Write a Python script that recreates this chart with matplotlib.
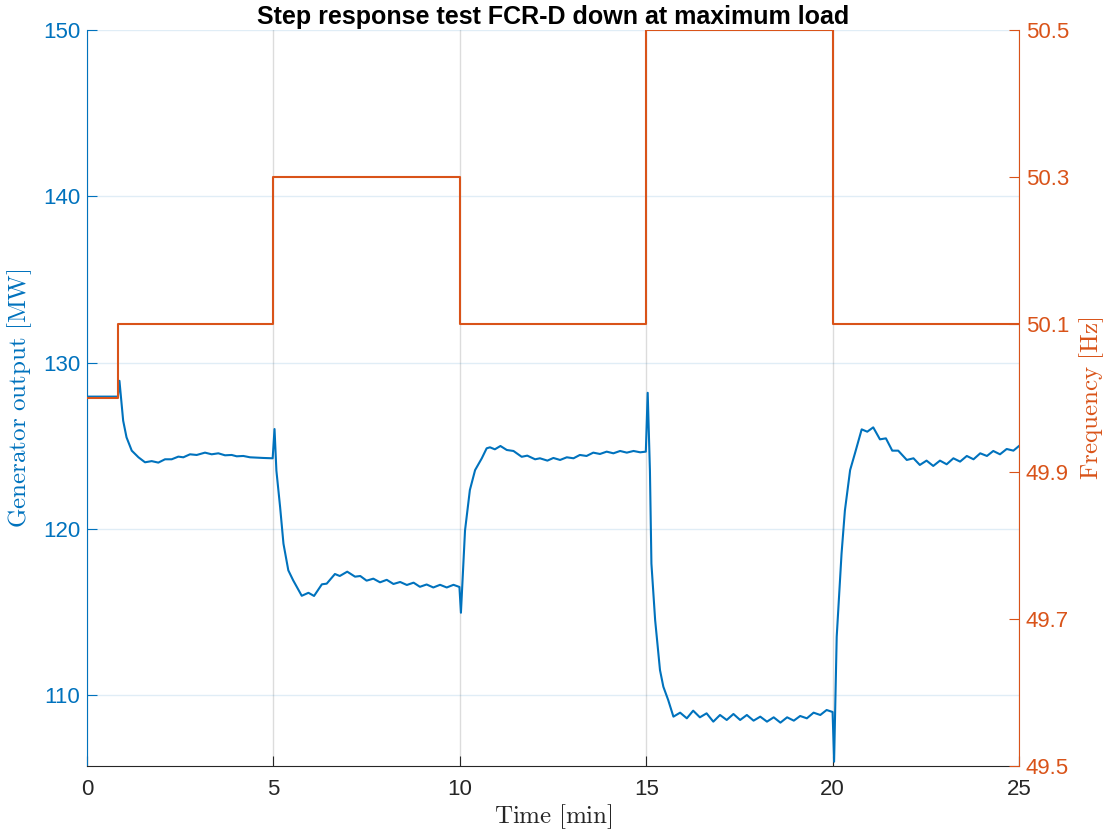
import matplotlib
matplotlib.use("Agg")
from matplotlib import pyplot as plt

plt.rcParams['mathtext.fontset'] = 'cm'
plt.rcParams['font.family'] = ['Liberation Sans', 'DejaVu Sans']

# generator output [MW] vs time [min]
t_power = [0.0, 0.83, 0.87, 0.97, 1.06, 1.2, 1.38, 1.556, 1.735, 1.913, 2.092, 2.271, 2.45,
           2.584, 2.763, 2.942, 3.165, 3.344, 3.523, 3.702, 3.881, 4.015, 4.193, 4.372,
           4.551, 4.73, 4.98, 5.03, 5.08, 5.18, 5.27, 5.4, 5.53, 5.76, 5.94, 6.09, 6.3,
           6.43, 6.65, 6.78, 6.98, 7.19, 7.33, 7.5, 7.68, 7.86, 8.04, 8.22, 8.4, 8.58, 8.76,
           8.93, 9.11, 9.29, 9.47, 9.65, 9.83, 9.99, 10.03, 10.14, 10.27, 10.41, 10.59, 10.72,
           10.81, 10.94, 11.09, 11.26, 11.44, 11.66, 11.81, 12.02, 12.15, 12.35, 12.51, 12.69,
           12.87, 13.05, 13.22, 13.4, 13.58, 13.76, 13.94, 14.12, 14.3, 14.48, 14.66, 14.84,
           14.99, 15.04, 15.1, 15.14, 15.24, 15.37, 15.46, 15.59, 15.73, 15.91, 16.09, 16.26,
           16.44, 16.62, 16.8, 16.98, 17.16, 17.34, 17.52, 17.7, 17.88, 18.06, 18.24, 18.42,
           18.6, 18.78, 18.96, 19.13, 19.31, 19.49, 19.67, 19.84, 20.0, 20.04, 20.11, 20.24,
           20.33, 20.47, 20.6, 20.78, 20.93, 21.09, 21.27, 21.43, 21.6, 21.76, 21.99, 22.17,
           22.34, 22.52, 22.7, 22.88, 23.06, 23.24, 23.42, 23.6, 23.78, 23.96, 24.14, 24.31,
           24.49, 24.67, 24.85, 25.0]
power = [127.95, 127.95, 128.9, 126.5, 125.5, 124.7, 124.3, 124.0, 124.07, 123.98, 124.18,
         124.18, 124.34, 124.3, 124.48, 124.44, 124.58, 124.48, 124.54, 124.42, 124.44,
         124.36, 124.38, 124.3, 124.28, 124.26, 124.24, 126.0, 123.5, 121.3, 119.1, 117.5,
         116.9, 115.97, 116.15, 115.96, 116.66, 116.7, 117.28, 117.16, 117.42, 117.12,
         117.16, 116.88, 117.0, 116.78, 116.93, 116.68, 116.8, 116.62, 116.76, 116.51,
         116.65, 116.47, 116.63, 116.47, 116.63, 116.5, 114.95, 119.9, 122.33, 123.53,
         124.24, 124.84, 124.9, 124.78, 124.98, 124.74, 124.68, 124.33, 124.4, 124.18,
         124.24, 124.1, 124.26, 124.14, 124.3, 124.24, 124.44, 124.38, 124.58, 124.5,
         124.64, 124.54, 124.68, 124.58, 124.68, 124.6, 124.64, 128.18, 123.5, 117.9, 114.5,
         111.5, 110.5, 109.7, 108.7, 108.94, 108.6, 109.06, 108.66, 108.9, 108.4, 108.8,
         108.5, 108.86, 108.5, 108.8, 108.46, 108.7, 108.4, 108.66, 108.34, 108.66, 108.46,
         108.74, 108.6, 108.94, 108.8, 109.1, 108.98, 105.99, 113.5, 118.5, 121.1, 123.53,
         124.54, 125.98, 125.84, 126.1, 125.38, 125.44, 124.7, 124.7, 124.14, 124.24, 123.84,
         124.1, 123.78, 124.1, 123.88, 124.24, 124.04, 124.38, 124.18, 124.54, 124.38,
         124.68, 124.48, 124.8, 124.7, 124.98]

# frequency setpoint [Hz]
t_freq = [0.0, 0.83, 0.83, 5.0, 5.0, 10.0, 10.0, 15.0, 15.0, 20.0, 20.0, 25.0]
freq = [50.0, 50.0, 50.1, 50.1, 50.3, 50.3, 50.1, 50.1, 50.5, 50.5, 50.1, 50.1]

blue = '#0072BD'
orange = '#D95319'

fig = plt.figure(figsize=(11.07, 8.34), dpi=100)
ax = fig.add_axes([0.0786, 0.0815, 0.8419, 0.8825])
ax2 = ax.twinx()

ax.plot(t_power, power, color=blue, lw=1.5, zorder=3)
ax2.plot(t_freq, freq, color=orange, lw=1.5)

ax.set_xlim(0, 25)
ax.set_ylim(105.73, 150)
ax2.set_ylim(49.5, 50.5)
ax.set_xticks([0, 5, 10, 15, 20, 25])
ax.set_yticks([110, 120, 130, 140, 150])
ax2.set_yticks([49.5, 49.7, 49.9, 50.1, 50.3, 50.5])

ax.grid(axis='x', color='#dcdcdc', lw=1)
ax.grid(axis='y', color=blue, alpha=0.12, lw=1)
ax.set_axisbelow(True)

for a in (ax, ax2):
    a.spines['top'].set_visible(False)
ax.spines['left'].set_color(blue)
ax.spines['right'].set_visible(False)
ax2.spines['left'].set_visible(False)
ax2.spines['right'].set_color(orange)
ax2.spines['bottom'].set_visible(False)
ax.spines['bottom'].set_color('#262626')

ax.tick_params(axis='x', direction='in', length=7, colors='#262626', labelsize=16, pad=9)
ax.tick_params(axis='y', direction='in', length=7, colors=blue, labelsize=16, pad=5)
ax2.tick_params(axis='y', direction='in', length=7, colors=orange, labelsize=16, pad=5)

ax.set_xlabel(r'$\mathrm{Time\ [min]}$', fontsize=18, color='#262626', labelpad=2)
ax.set_ylabel(r'$\mathrm{Generator\ output\ [MW]}$', fontsize=18, color=blue, labelpad=6)
ax2.set_ylabel(r'$\mathrm{Frequency\ [Hz]}$', fontsize=18, color=orange, labelpad=6)
ax.set_title('Step response test FCR-D down at maximum load', fontsize=18,
             fontweight='bold', pad=4)

fig.savefig('out.png', dpi=100)
